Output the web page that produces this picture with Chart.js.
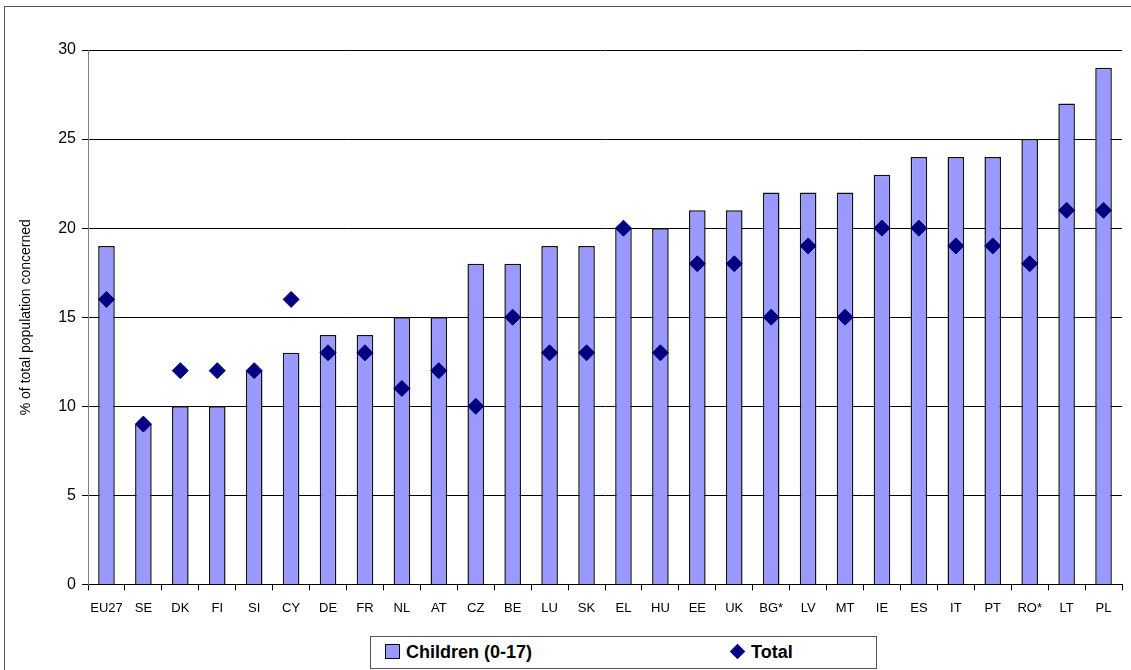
<!DOCTYPE html>
<html>
<head>
<meta charset="utf-8">
<script src="https://cdn.jsdelivr.net/npm/chart.js@4"></script>
<style>
  html, body { margin: 0; padding: 0; background: #fff; }
  #wrap { position: relative; width: 1131px; height: 670px; overflow: hidden; font-family: Arial, "Liberation Sans", sans-serif; }
  #frame { position: absolute; left: 4px; top: 6px; width: 1130px; height: 700px; border: 1px solid #555; box-sizing: border-box; }
  #chartBox { position: absolute; left: 0; top: 0; width: 1131px; height: 626px; }
  #legend { position: absolute; left: 370px; top: 636px; width: 507px; height: 33px; border: 1px solid #555; box-sizing: border-box; font-weight: bold; font-size: 18px; }
  .item { position: absolute; top: 5px; white-space: nowrap; }
  .sq { display: inline-block; width: 13px; height: 13px; background: #9999ff; border: 1px solid #000; margin-right: 6px; vertical-align: -1px; }
  .dm { display: inline-block; width: 11px; height: 11px; background: #000080; transform: rotate(45deg); margin-right: 8px; vertical-align: 1px; }
</style>
</head>
<body>
<div id="wrap">
  <div id="frame"></div>
  <div id="chartBox"><canvas id="povertyChart"></canvas></div>
  <div id="legend">
    <span class="item" style="left:14px"><span class="sq"></span>Children (0-17)</span>
    <span class="item" style="left:361px"><span class="dm"></span>Total</span>
  </div>
</div>
<script>
const countries = ['EU27', 'SE', 'DK', 'FI', 'SI', 'CY', 'DE', 'FR', 'NL', 'AT', 'CZ', 'BE', 'LU', 'SK',
  'EL', 'HU', 'EE', 'UK', 'BG*', 'LV', 'MT', 'IE', 'ES', 'IT', 'PT', 'RO*', 'LT', 'PL'];
const children = [19, 9, 10, 10, 12, 13, 14, 14, 15, 15, 18, 18, 19, 19,
  20, 20, 21, 21, 22, 22, 22, 23, 24, 24, 24, 25, 27, 29];
const total = [16, 9, 12, 12, 12, 16, 13, 13, 11, 12, 10, 15, 13, 13,
  20, 13, 18, 18, 15, 19, 15, 20, 20, 19, 19, 18, 21, 21];

const ctx = document.getElementById('povertyChart');
new Chart(ctx, {
  data: {
    labels: countries,
    datasets: [
      {
        type: 'line',
        label: 'Total',
        data: total,
        showLine: false,
        pointStyle: 'rectRot',
        pointRadius: 8,
        backgroundColor: '#000080',
        borderColor: '#000080',
        borderWidth: 1,
        order: 0,
      },
      {
        type: 'bar',
        label: 'Children (0-17)',
        data: children,
        backgroundColor: '#9999ff',
        borderColor: '#111',
        borderWidth: 1.5,
        barPercentage: 0.45,
        categoryPercentage: 1,
        order: 1,
      },
    ],
  },
  options: {
    responsive: true,
    maintainAspectRatio: false,
    animation: false,
    layout: { padding: { top: 50, right: 8, left: 18, bottom: 0 } },
    plugins: {
      legend: { display: false },
      tooltip: { enabled: false },
    },
    scales: {
      x: {
        grid: {
          drawOnChartArea: false,
          drawTicks: true,
          tickLength: 6,
          color: '#000',
        },
        border: { color: '#000', width: 1 },
        ticks: {
          color: '#000',
          font: { family: 'Arial', size: 13 },
          maxRotation: 0,
          autoSkip: false,
          padding: 10,
        },
      },
      y: {
        min: 0,
        max: 30,
        afterFit: (axis) => { axis.width = 70; },
        ticks: {
          stepSize: 5,
          color: '#000',
          font: { family: 'Arial', size: 16 },
          padding: 6,
        },
        grid: {
          color: '#000',
          tickLength: 6,
          lineWidth: 1,
        },
        border: { color: '#808080', width: 1 },
        title: {
          display: true,
          text: '% of total population concerned',
          color: '#000',
          font: { family: 'Arial', size: 14 },
          padding: 0,
        },
      },
    },
  },
});
</script>
</body>
</html>
